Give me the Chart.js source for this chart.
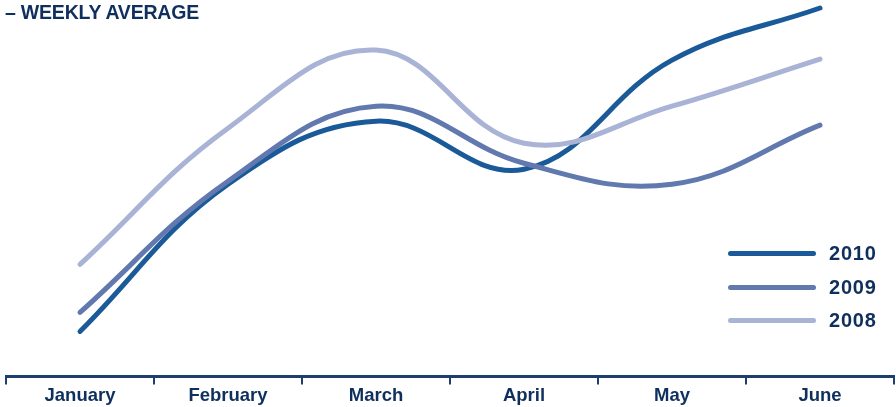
<!DOCTYPE html>
<html>
<head>
<meta charset="utf-8">
<script src="https://cdn.jsdelivr.net/npm/chart.js@4.4.1/dist/chart.umd.min.js"></script>
<style>
  html, body { margin: 0; padding: 0; background: #fff; }
  .wrap { position: relative; width: 896px; height: 407px; }
  .title {
    position: absolute; left: 5px; top: 1px;
    font: bold 19.5px "Liberation Sans", Arial, sans-serif;
    color: #0f2f5c; letter-spacing: -0.2px;
  }
  .legend { position: absolute; left: 728px; top: 237px; }
  .legend .row { height: 33.5px; display: flex; align-items: center; }
  .legend .swatch { width: 88px; height: 5px; border-radius: 3px; margin-right: 13px; }
  .legend .lbl { font: bold 20px "Liberation Sans", Arial, sans-serif; color: #0f2f5c; letter-spacing: 0.8px; }
</style>
</head>
<body>
<div class="wrap">
  <canvas id="chart-line-1" width="896" height="407"></canvas>
  <div class="title">– WEEKLY AVERAGE</div>
  <div class="legend" id="legend"></div>
</div>
<script>
var months = ["January", "February", "March", "April", "May", "June"];
var years = ["2010", "2009", "2008"];
var avg2010 = [45, 192, 255, 207, 316, 368];
var avg2009 = [64, 195, 270, 213, 192, 251];
var avg2008 = [112, 248, 326, 233, 270, 317];
var lineColors = ["#1b5a98", "#6179af", "#a8b3d5"];

var textColor = "#0f2f5c";
var axisColor = "#1e3e6e";

function loadLineChart() {
    var ctx = document.getElementById("chart-line-1").getContext('2d');
    var series = [avg2010, avg2009, avg2008];
    var datasets = [];
    // draw lightest first so the dark line sits on top
    for (var i = series.length - 1; i >= 0; i--) {
        datasets.push({
            label: years[i],
            data: series[i],
            borderColor: lineColors[i],
            borderWidth: 5,
            borderCapStyle: 'round',
            tension: 0.4,
            pointRadius: 0,
            fill: false
        });
    }
    new Chart(ctx, {
        type: 'line',
        data: { labels: months, datasets: datasets },
        options: {
            responsive: false,
            animation: false,
            maintainAspectRatio: false,
            layout: { padding: { left: 6, right: 2, top: 0, bottom: 0 } },
            plugins: { legend: { display: false }, tooltip: { enabled: false } },
            scales: {
                x: {
                    offset: true,
                    grid: {
                        offset: true,
                        drawOnChartArea: false,
                        drawTicks: true,
                        tickLength: 8,
                        color: axisColor,
                        lineWidth: 2
                    },
                    border: { display: true, color: axisColor, width: 3 },
                    ticks: {
                        color: textColor,
                        padding: 2,
                        maxRotation: 0,
                        font: { family: "Liberation Sans", size: 18.5, weight: 'bold', lineHeight: 1.0 }
                    }
                },
                y: {
                    display: false,
                    min: 0,
                    max: 376
                }
            }
        }
    });

    var legend = document.getElementById("legend");
    for (var j = 0; j < years.length; j++) {
        var row = document.createElement("div");
        row.className = "row";
        row.innerHTML = '<span class="swatch" style="background:' + lineColors[j] + '"></span><span class="lbl">' + years[j] + '</span>';
        legend.appendChild(row);
    }
}

loadLineChart();
</script>
</body>
</html>
